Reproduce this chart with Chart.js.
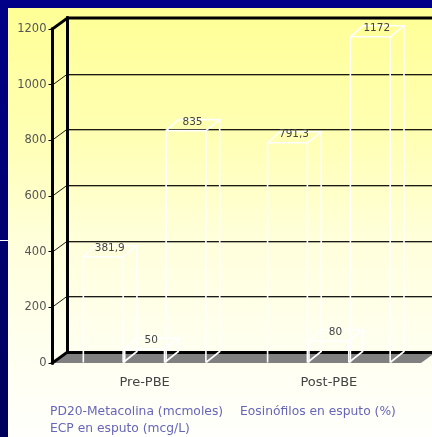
<!DOCTYPE html>
<html>
<head>
<meta charset="utf-8">
<script src="https://cdn.jsdelivr.net/npm/chart.js@4.4.0/dist/chart.umd.min.js"></script>
<style>
	html, body { margin: 0; padding: 0; background: #000080; overflow: hidden; }
	#wrap { position: relative; width: 432px; height: 437px; }
</style>
</head>
<body>
<div id="wrap"><canvas id="chart"></canvas></div>
<script>
// Data
const categories = ['Pre-PBE', 'Post-PBE'];
const seriesLabels = ['PD20-Metacolina (mcmoles)', 'Eosinófilos en esputo (%)', 'ECP en esputo (mcg/L)'];
const pd20Values = [381.9, 791.3];
const eosinofilosValues = [50, 80];
const ecpValues = [835, 1172];
const yMin = 0;
const yMax = 1200;
const yStep = 200;

// Depth of the fake 3D walls and bars
const WALL_DX = 15, WALL_DY = -11;
const BAR_DX = 13, BAR_DY = -11;
const FONT = 'DejaVu Sans';

// Decimal comma as in the original
const fmt = (v) => String(v).replace('.', ',');

function line(ctx, x1, y1, x2, y2) {
	ctx.beginPath();
	ctx.moveTo(x1, y1);
	ctx.lineTo(x2, y2);
	ctx.stroke();
}

const scene3d = {
	id: 'scene3d',
	beforeDraw(chart) {
		const { ctx, chartArea: a } = chart;
		const y = chart.scales.y;
		const W = chart.width, H = chart.height;
		ctx.save();

		// Slide background and pale yellow panel
		let g = ctx.createLinearGradient(0, 0, 0, H);
		g.addColorStop(0, '#000088');
		g.addColorStop(1, '#00005c');
		ctx.fillStyle = g;
		ctx.fillRect(0, 0, W, H);
		ctx.fillStyle = '#ffffff';
		ctx.fillRect(0, 240, 8, 1);

		g = ctx.createLinearGradient(0, 8, 0, H);
		g.addColorStop(0, '#ffff96');
		g.addColorStop(0.3, '#ffffb4');
		g.addColorStop(0.55, '#ffffdc');
		g.addColorStop(0.8, '#fffff0');
		g.addColorStop(1, '#fffffc');
		ctx.fillStyle = g;
		ctx.fillRect(8, 8, W - 8, H - 8);

		const bx = a.left + WALL_DX;
		const y0 = y.getPixelForValue(yMin);
		const yTop = y.getPixelForValue(yMax);

		// Grid lines on the back wall, diagonals on the side wall
		y.ticks.forEach((t) => {
			if (t.value === yMin || t.value === yMax) return;
			const py = Math.round(y.getPixelForValue(t.value));
			ctx.lineWidth = 1;
			ctx.strokeStyle = 'rgba(0,0,0,0.9)';
			line(ctx, a.left, py, bx, py + WALL_DY);
			line(ctx, bx, py + WALL_DY + 0.5, W, py + WALL_DY + 0.5);
			ctx.strokeStyle = 'rgba(0,0,0,0.3)';
			line(ctx, bx, py + WALL_DY + 1.5, W, py + WALL_DY + 1.5);
		});

		// Floor
		ctx.fillStyle = '#808080';
		ctx.beginPath();
		ctx.moveTo(a.left, y0);
		ctx.lineTo(a.right, y0);
		ctx.lineTo(a.right + WALL_DX, y0 + WALL_DY);
		ctx.lineTo(bx, y0 + WALL_DY);
		ctx.closePath();
		ctx.fill();

		// Heavy frame edges
		ctx.strokeStyle = '#000';
		ctx.lineWidth = 3;
		ctx.lineCap = 'square';
		line(ctx, bx, y0 + WALL_DY + 0.5, W, y0 + WALL_DY + 0.5);
		line(ctx, bx, yTop + WALL_DY, W, yTop + WALL_DY);
		line(ctx, a.left, yTop, a.left, y0);
		line(ctx, bx, yTop + WALL_DY, bx, y0 + WALL_DY);
		line(ctx, a.left, yTop, bx, yTop + WALL_DY);
		line(ctx, a.left, y0, bx, y0 + WALL_DY);
		ctx.restore();
	},
	afterDatasetsDraw(chart) {
		const { ctx } = chart;
		ctx.save();
		ctx.strokeStyle = '#ffffff';
		ctx.lineWidth = 1.6;
		ctx.font = '10.5px "' + FONT + '"';
		ctx.textAlign = 'center';
		ctx.textBaseline = 'alphabetic';
		chart.data.datasets.forEach((ds, i) => {
			const meta = chart.getDatasetMeta(i);
			meta.data.forEach((bar, j) => {
				const { x, y, width, base } = bar.getProps(['x', 'y', 'width', 'base'], true);
				const l = x - width / 2, r = x + width / 2;
				// front outline, top face and visible side edges
				ctx.beginPath();
				ctx.moveTo(l + 0.8, base);
				ctx.lineTo(l + 0.8, y);
				ctx.lineTo(r - 0.8, y);
				ctx.lineTo(r - 0.8, base);
				ctx.moveTo(l + 0.8, y);
				ctx.lineTo(l + BAR_DX, y + BAR_DY);
				ctx.lineTo(r + BAR_DX, y + BAR_DY);
				ctx.lineTo(r - 0.8, y);
				ctx.moveTo(r + BAR_DX, y + BAR_DY);
				ctx.lineTo(r + BAR_DX, base + BAR_DY);
				ctx.lineTo(r - 0.8, base);
				ctx.stroke();
				// value label
				ctx.fillStyle = '#444444';
				ctx.fillText(fmt(ds.data[j]), x + BAR_DX / 2, y + BAR_DY + 5);
			});
		});
		ctx.restore();
	},
	afterDraw(chart) {
		// Text-only legend, two lines
		const { ctx } = chart;
		ctx.save();
		ctx.font = '12.3px "' + FONT + '"';
		ctx.fillStyle = '#6666b8';
		ctx.textBaseline = 'middle';
		ctx.textAlign = 'left';
		const names = chart.data.datasets.map((d) => d.label);
		const x0 = 50;
		ctx.fillText(names[0], x0, 412);
		ctx.fillText(names[1], x0 + ctx.measureText(names[0]).width + 17, 412);
		ctx.fillText(names[2], x0, 429);
		ctx.restore();
	}
};

// Bars are see-through; their outlines are stroked by the plugin
const barStyle = {
	backgroundColor: 'rgba(0,0,0,0)',
	borderColor: '#ffffff',
	borderWidth: 0
};

new Chart(document.getElementById('chart'), {
	type: 'bar',
	data: {
		labels: categories,
		datasets: [
			{ label: seriesLabels[0], data: pd20Values, ...barStyle },
			{ label: seriesLabels[1], data: eosinofilosValues, ...barStyle },
			{ label: seriesLabels[2], data: ecpValues, ...barStyle }
		]
	},
	options: {
		responsive: true,
		maintainAspectRatio: false,
		animation: false,
		layout: { padding: { left: 0, top: 29, right: 11, bottom: 44 } },
		datasets: { bar: { categoryPercentage: 0.674, barPercentage: 1 } },
		plugins: {
			legend: { display: false },
			tooltip: { enabled: false }
		},
		scales: {
			x: {
				grid: { display: false },
				border: { display: false },
				ticks: { color: '#444444', font: { family: FONT, size: 13 }, padding: 4 },
				afterFit: (s) => { s.height = 30; }
			},
			y: {
				min: yMin,
				max: yMax,
				ticks: {
					stepSize: yStep,
					color: '#555555',
					font: { family: FONT, size: 11.5 },
					padding: 2,
					callback: (v) => String(v)
				},
				grid: { drawOnChartArea: false, color: '#000000', tickLength: 4, lineWidth: 1 },
				border: { display: false },
				afterFit: (s) => { s.width = 52.5; }
			}
		}
	},
	plugins: [scene3d]
});
</script>
</body>
</html>
